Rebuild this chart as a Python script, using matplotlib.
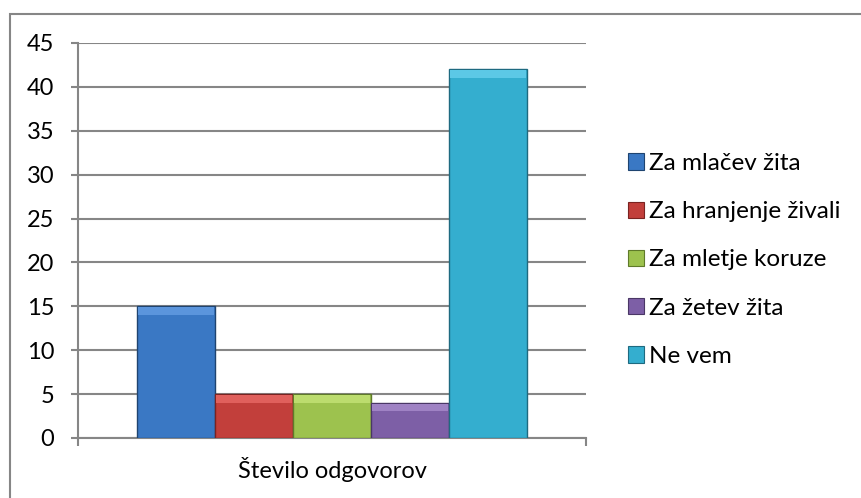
import matplotlib
matplotlib.use("Agg")
import matplotlib.pyplot as plt
import matplotlib.patches as mpatches
import numpy as np

categories = ["Število odgovorov"]
series = ["Za mlačev žita", "Za hranjenje živali", "Za mletje koruze", "Za žetev žita", "Ne vem"]
values = [15, 5, 5, 4, 42]
colors = ["#3A78C4", "#C23F3B", "#9DC24E", "#7D5FA6", "#34AECF"]
edge_colors = ["#1F4470", "#7A2321", "#5F7A2A", "#4A3766", "#1E6A80"]
top_colors = ["#5B95DC", "#E0605C", "#BCDC6E", "#9F82C4", "#5CC8E6"]
yticks = [0, 5, 10, 15, 20, 25, 30, 35, 40, 45]

plt.rcParams['font.family'] = ['Lato', 'DejaVu Sans']
FS = 17
LFS = 17.5

fig = plt.figure(figsize=(8.61, 4.98), dpi=100)
# outer chart border
fig.patches.append(mpatches.Rectangle((10/861, -0.05), 1.2, 1 - 14/498 + 0.05,
                                      transform=fig.transFigure, fill=False,
                                      edgecolor="#868686", linewidth=1.5))

ax = fig.add_axes([78/861, 1 - 438/498, (586-78)/861, (438-43)/498])

n = len(values)
gap = 1.5
w = 1.0 / (n + gap)
x0 = 0.75 * w
xs = [x0 + w * (i + 0.5) for i in range(n)]

ax.set_ylim(0, 45)
ax.set_xlim(0, 1)
ax.set_yticks(yticks)
ax.yaxis.grid(True, color="#868686", linewidth=1.5)
ax.set_axisbelow(True)

handles = []
for i in range(n):
    ax.bar(xs[i], values[i], width=w, color=colors[i], edgecolor=edge_colors[i],
           linewidth=1.0, zorder=3)
    # bevel highlight at top
    band = min(0.9, values[i] * 0.2)
    ax.bar(xs[i], band, width=w * 0.97, bottom=values[i] - band - 0.1,
           color=top_colors[i], linewidth=0, zorder=4)
    handles.append(mpatches.Patch(facecolor=colors[i], edgecolor=edge_colors[i],
                                  linewidth=0.8, label=series[i]))

for s in ["top", "right"]:
    ax.spines[s].set_visible(False)
for s in ["left", "bottom"]:
    ax.spines[s].set_color("#868686")
    ax.spines[s].set_linewidth(1.5)

ax.tick_params(axis="y", length=5, width=1.5, color="#868686", labelsize=FS, pad=12)
ax.set_xticks([0, 1], minor=True)
ax.tick_params(axis="x", which="minor", length=6, width=1.5, color="#868686")
ax.set_xticks([0.5])
ax.set_xticklabels(categories)
ax.tick_params(axis="x", which="major", length=0, labelsize=FS, pad=14)

fig.legend(handles=handles, loc="upper left", bbox_to_anchor=(628/861, 1 - 153/498),
           frameon=False, fontsize=LFS, handlelength=0.66, handleheight=0.66,
           handletextpad=0.2, labelspacing=1.12, borderaxespad=0, borderpad=0)

fig.savefig("out.png", dpi=100)
